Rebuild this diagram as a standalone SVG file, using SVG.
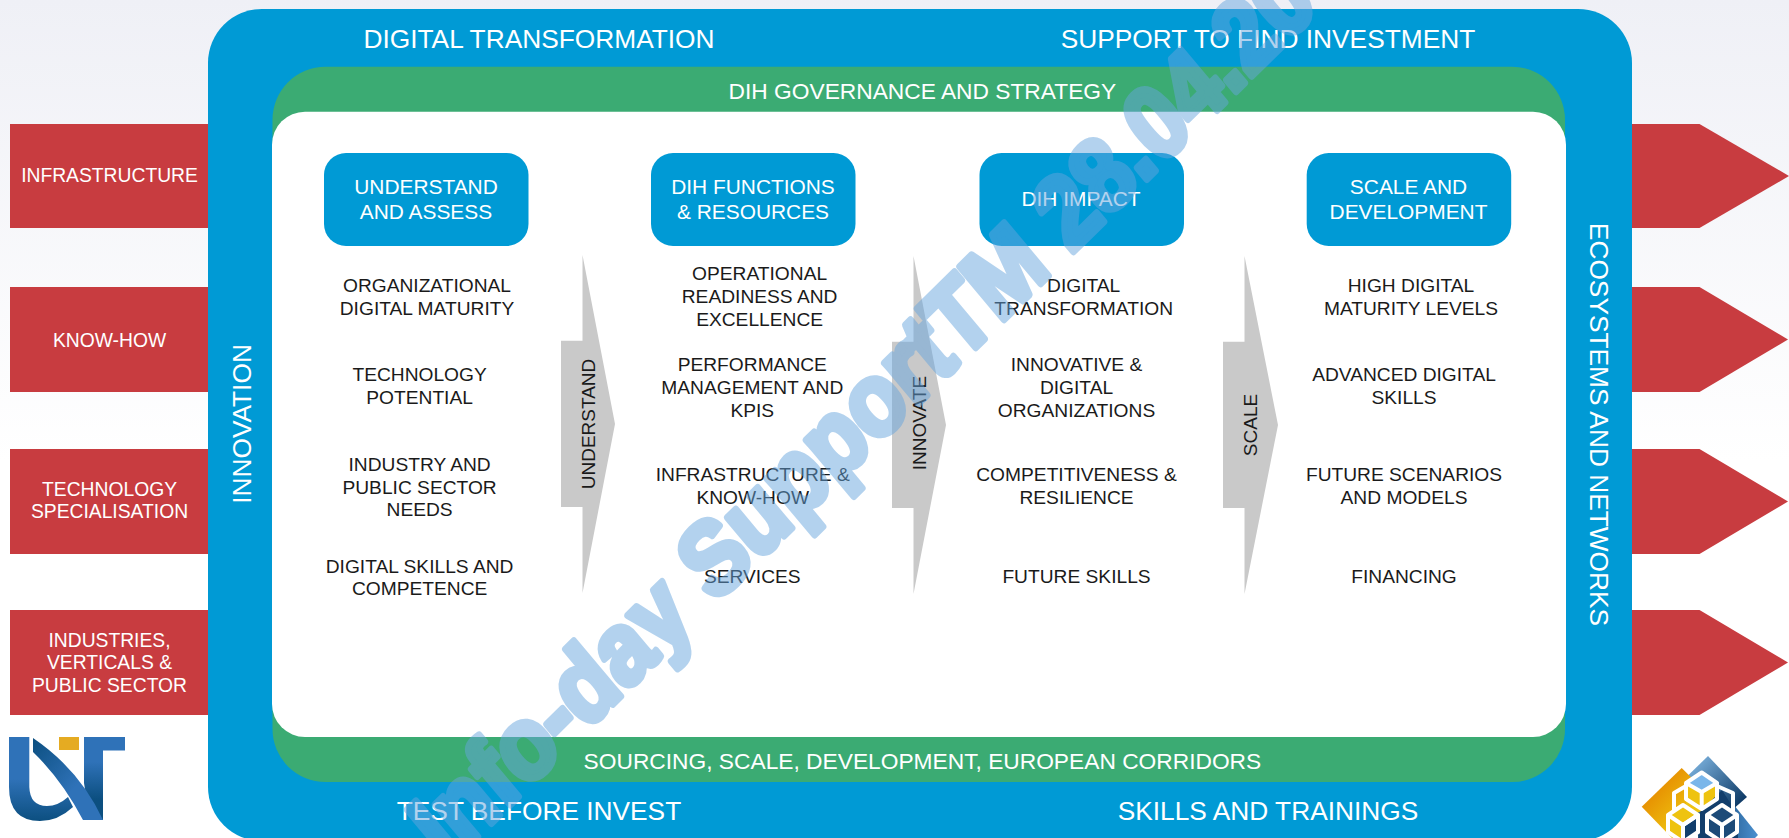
<svg xmlns="http://www.w3.org/2000/svg" width="1789" height="838" viewBox="0 0 1789 838">
<style>
text{font-family:"Liberation Sans",Arial,sans-serif;text-anchor:middle}
.red{fill:#c83c40}
.box{fill:#009ad5}
.conn{fill:#c9c9c9}
.wt{fill:#fff;font-size:26.3px}
.gt{fill:#fff;font-size:22.75px}
.rt{fill:#fff;font-size:19.3px}
.bt{fill:#fff;font-size:20.9px}
.it{fill:#1a1a1a;font-size:19.2px}
.ct{fill:#1a1a1a;font-size:19px}
</style>
<defs>
<linearGradient id="bg" x1="0" y1="0" x2="0" y2="1"><stop offset="0" stop-color="#eff0f6"/><stop offset="0.55" stop-color="#fff"/></linearGradient>
<linearGradient id="ut" x1="0" y1="0" x2="0" y2="1"><stop offset="0" stop-color="#2f72b8"/><stop offset="0.5" stop-color="#2f72b8"/><stop offset="1" stop-color="#0c4f80"/></linearGradient>
<linearGradient id="sw" x1="0" y1="0" x2="1" y2="1"><stop offset="0" stop-color="#0c4f80"/><stop offset="0.6" stop-color="#2f72b8"/></linearGradient>
<linearGradient id="tg" x1="0" y1="0" x2="0" y2="1"><stop offset="0" stop-color="#2f72b8"/><stop offset="0.3" stop-color="#2f72b8"/><stop offset="0.75" stop-color="#0c4f80"/></linearGradient>
<linearGradient id="or" x1="0" y1="0" x2="1" y2="1"><stop offset="0.2" stop-color="#e68a00"/><stop offset="0.7" stop-color="#eec310"/></linearGradient>
<linearGradient id="bl" x1="0" y1="0" x2="1" y2="1"><stop offset="0.1" stop-color="#8cc4f0"/><stop offset="0.75" stop-color="#0e3a66"/></linearGradient>
<linearGradient id="bl2" x1="0" y1="0" x2="1" y2="0"><stop offset="0" stop-color="#0e3a66"/><stop offset="1" stop-color="#4a90d0"/></linearGradient>
</defs>
<rect width="1789" height="838" fill="url(#bg)"/>
<g id="input-infrastructure"><rect class="red" x="10" y="124" width="200" height="104"/><text class="rt" x="109.5" y="182">INFRASTRUCTURE</text></g>
<g id="input-know-how"><rect class="red" x="10" y="287" width="200" height="105"/><text class="rt" x="109.5" y="347">KNOW-HOW</text></g>
<g id="input-technology"><rect class="red" x="10" y="449" width="200" height="105"/><text class="rt" x="109.5" y="495.5">TECHNOLOGY</text><text class="rt" x="109.5" y="518.3">SPECIALISATION</text></g>
<g id="input-industries"><rect class="red" x="10" y="610" width="200" height="105"/><text class="rt" x="109.5" y="646.5">INDUSTRIES,</text><text class="rt" x="109.5" y="669">VERTICALS &amp;</text><text class="rt" x="109.5" y="692">PUBLIC SECTOR</text></g>
<g id="outputs">
<polygon class="red" points="1630,124 1699.5,124 1789,176 1699.5,228 1630,228"/>
<polygon class="red" points="1630,287 1699.5,287 1788,339.5 1699.5,392 1630,392"/>
<polygon class="red" points="1630,449 1699.5,449 1788,501.5 1699.5,554 1630,554"/>
<polygon class="red" points="1630,610 1699.5,610 1788,662.5 1699.5,715 1630,715"/>
</g>
<g id="outer-frame">
<rect class="box" x="208" y="9" width="1424" height="832" rx="54"/>
<text class="wt" x="539" y="48.3">DIGITAL TRANSFORMATION</text>
<text class="wt" x="1268" y="48.3">SUPPORT TO FIND INVESTMENT</text>
<text class="wt" x="539" y="820">TEST BEFORE INVEST</text>
<text class="wt" x="1268" y="820">SKILLS AND TRAININGS</text>
<text class="wt" transform="translate(250.7 424) rotate(-90)">INNOVATION</text>
<text class="wt" transform="translate(1589.5 424.5) rotate(90)">ECOSYSTEMS AND NETWORKS</text>
</g>
<g id="governance-band">
<rect x="272.5" y="66.7" width="1292.5" height="715.3" rx="53" fill="#3bab73"/>
<text class="gt" x="922.4" y="99">DIH GOVERNANCE AND STRATEGY</text>
<text class="gt" x="922.4" y="769.3">SOURCING, SCALE, DEVELOPMENT, EUROPEAN CORRIDORS</text>
</g>
<rect id="panel" x="272" y="111.7" width="1294" height="625.3" rx="33" fill="#fff"/>
<g id="connectors">
<polygon class="conn" points="561,340.7 582.5,340.7 582.5,255 615,424 582.5,593 582.5,507 561,507"/>
<polygon class="conn" points="892,341.7 913.5,341.7 913.5,256 946,425 913.5,594 913.5,508 892,508"/>
<polygon class="conn" points="1223,341.7 1244.5,341.7 1244.5,256 1278,425 1244.5,594 1244.5,508 1223,508"/>
<text class="ct" transform="translate(595 424) rotate(-90)">UNDERSTAND</text>
<text class="ct" transform="translate(926 423) rotate(-90)">INNOVATE</text>
<text class="ct" transform="translate(1256.500 425) rotate(-90)">SCALE</text>
</g>
<g id="col-understand">
<rect class="box" x="324" y="153" width="204.5" height="93" rx="22"/>
<text class="bt" x="426" y="193.5">UNDERSTAND</text><text class="bt" x="426" y="218.7">AND ASSESS</text>
<text class="it" x="427" y="292">ORGANIZATIONAL</text><text class="it" x="427" y="315.3">DIGITAL MATURITY</text>
<text class="it" x="419.6" y="381.3">TECHNOLOGY</text><text class="it" x="419.6" y="404">POTENTIAL</text>
<text class="it" x="419.6" y="471">INDUSTRY AND</text><text class="it" x="419.6" y="493.5">PUBLIC SECTOR</text><text class="it" x="419.6" y="516">NEEDS</text>
<text class="it" x="419.6" y="573">DIGITAL SKILLS AND</text><text class="it" x="419.6" y="595">COMPETENCE</text>
</g>
<g id="col-functions">
<rect class="box" x="651" y="153" width="204.5" height="93" rx="22"/>
<text class="bt" x="753" y="193.5">DIH FUNCTIONS</text><text class="bt" x="753" y="218.7">&amp; RESOURCES</text>
<text class="it" x="759.6" y="280">OPERATIONAL</text><text class="it" x="759.6" y="303">READINESS AND</text><text class="it" x="759.6" y="326">EXCELLENCE</text>
<text class="it" x="752.3" y="371.3">PERFORMANCE</text><text class="it" x="752.3" y="394">MANAGEMENT AND</text><text class="it" x="752.3" y="416.7">KPIS</text>
<text class="it" x="752.7" y="481.3">INFRASTRUCTURE &amp;</text><text class="it" x="752.7" y="504">KNOW-HOW</text>
<text class="it" x="752.3" y="583.3">SERVICES</text>
</g>
<g id="col-impact">
<rect class="box" x="979.5" y="153" width="204.5" height="93" rx="22"/>
<text class="bt" x="1081" y="206">DIH IMPACT</text>
<text class="it" x="1083.7" y="292">DIGITAL</text><text class="it" x="1083.7" y="315.3">TRANSFORMATION</text>
<text class="it" x="1076.5" y="371.3">INNOVATIVE &amp;</text><text class="it" x="1076.5" y="394">DIGITAL</text><text class="it" x="1076.5" y="416.7">ORGANIZATIONS</text>
<text class="it" x="1076.5" y="481.3">COMPETITIVENESS &amp;</text><text class="it" x="1076.5" y="504">RESILIENCE</text>
<text class="it" x="1076.5" y="583.3">FUTURE SKILLS</text>
</g>
<g id="col-scale">
<rect class="box" x="1306.7" y="153" width="204.5" height="93" rx="22"/>
<text class="bt" x="1408.5" y="193.5">SCALE AND</text><text class="bt" x="1408.5" y="218.7">DEVELOPMENT</text>
<text class="it" x="1411" y="292">HIGH DIGITAL</text><text class="it" x="1411" y="315.3">MATURITY LEVELS</text>
<text class="it" x="1404" y="381.3">ADVANCED DIGITAL</text><text class="it" x="1404" y="404">SKILLS</text>
<text class="it" x="1404" y="481.3">FUTURE SCENARIOS</text><text class="it" x="1404" y="504">AND MODELS</text>
<text class="it" x="1404" y="583.3">FINANCING</text>
</g>
<g id="logo-left">
<path fill="url(#ut)" d="M9 737H29.300V787Q30 806 47 806Q58 806 68 797L73 807Q58 821 40 821Q9 821 9 787Z"/>
<path fill="url(#tg)" d="M84 737H125V750.500H103V820H90L84 783Z"/>
<path fill="url(#sw)" d="M33 738Q80 770 103 820H83Q62 780 33 752Z"/>
<rect x="59" y="737" width="20" height="13" fill="#e5ab22"/>
</g>
<g id="logo-right">
<polygon fill="url(#bl2)" points="1730,800 1758,835 1755,838 1700,838"/>
<polygon fill="url(#bl)" points="1708,756 1747,797 1700,838 1668,795"/>
<polygon fill="url(#or)" points="1641.700,806.700 1681.700,768 1708,794 1685,838 1672,838"/>
<polygon fill="#eec310" points="1686,786 1717,786 1717,800 1700,812 1686,808"/>
<polygon fill="#123e6c" points="1700,812 1722,790 1738,815 1738,838 1698,838"/>
<g stroke="#fff" stroke-width="4" stroke-linejoin="round">
<polygon fill="#7ab6ea" points="1701.700,772.500 1717,783 1701.700,792 1686,783"/>
<path fill="none" d="M1686 783V799L1701.700 809L1717 799V783M1701.700 792V809"/>
<path fill="none" d="M1686 786L1674 793V810M1717 786L1733 793V812"/>
<polygon fill="#eec310" points="1683,805 1698,815 1698,832 1683,842 1668,832 1668,815"/>
<polygon fill="#123e6c" points="1683,825 1698,815 1698,832 1683,842"/>
<path fill="none" d="M1668 815L1683 825L1698 815M1683 825V842"/>
<polygon fill="#1c4a78" points="1722,805 1737,815 1737,832 1722,842 1707,832 1707,815"/>
<path fill="none" d="M1707 815L1722 825L1737 815M1722 825V842"/>
</g>
</g>
<text id="watermark" transform="translate(447 867) rotate(-44.500) scale(0.9 1) skewX(-5)" x="0" y="0" style="text-anchor:start;font-size:100px;font-weight:700" fill="#66a5de" stroke="#66a5de" stroke-width="7" stroke-linejoin="round" opacity="0.49">Info-day SupportTM 28.04.20</text>
</svg>
